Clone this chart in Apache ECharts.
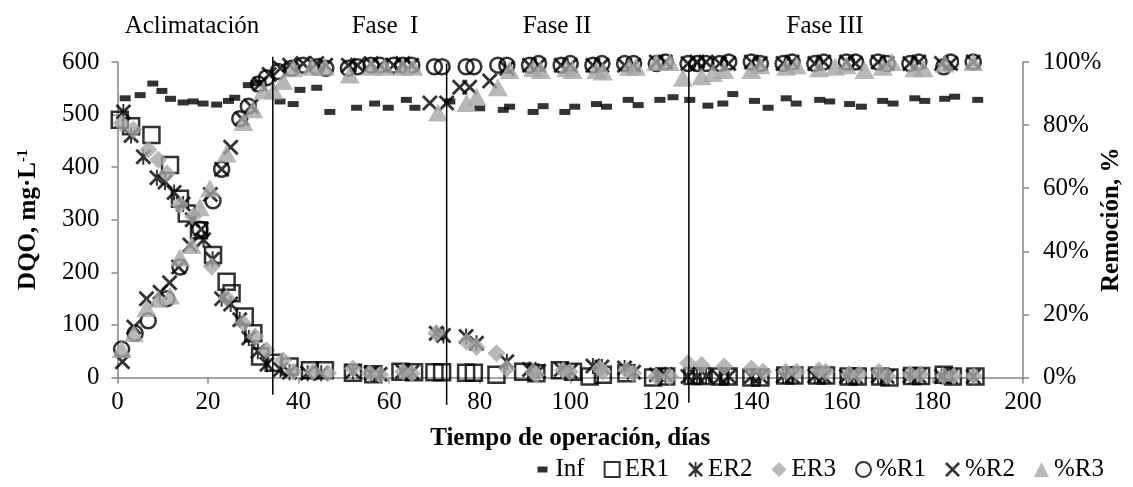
<!DOCTYPE html>
<html><head><meta charset="utf-8">
<script src="https://cdn.jsdelivr.net/npm/echarts@6/dist/echarts.min.js"></script>
<style>html,body{margin:0;padding:0;background:#fff}#c{width:1133px;height:487px}</style>
</head><body><div id="c"></div>
<script>
// ---- data (day, value) ----
const inf = [[1.7,531],[5,537],[7.8,559],[9.8,545],[11.7,530],[14.5,523],[16.7,525],[18.9,521],[21.9,519],[24.5,526],[25.9,532],[28.9,556],[30.7,560],[35.9,525],[38.8,520],[40.3,547],[44,551],[46.9,505],[52.8,513],[56.8,521],[59.8,513],[63.8,528],[65.7,513],[73.4,525],[80,512],[85.2,509],[86.6,515],[91.8,505],[94,516],[98.8,505],[101,515],[105.8,520],[108,515],[112.8,528],[115,518],[119.8,528],[122.7,533],[126.4,528],[130.4,517],[133.7,521],[135.9,539],[140.7,526],[143.7,513],[147.7,531],[149.9,521],[155.1,528],[157.3,525],[161.7,520],[164.3,515],[169,526],[171.3,521],[176.1,531],[178.3,526],[182.7,530],[184.9,534],[190,528]];
const er1 = [[0.5,490],[3,478],[7.5,461],[11.6,404],[13.8,340],[15.3,312],[18,280],[21.1,233],[24.1,182],[25.2,160],[28.1,116],[30,84],[31.5,40],[34.5,28],[38,21],[42.5,14],[45.8,14],[52,9],[56.5,6],[62.5,11],[65.5,10],[70,10],[71.7,10],[77,9],[78.7,9],[83.7,5],[89.6,11],[92.5,8],[97.7,14],[100.6,11],[104.3,2],[107.2,5],[112.4,8],[118.3,0],[121.2,2],[127,3],[129,3],[133,2],[135,2],[140,0],[142,0],[147.5,4],[149.5,4],[154.5,4],[156.5,4],[161.5,2],[163.5,2],[168.5,2],[170.5,0],[175.5,3],[177.5,3],[182.5,5],[184.5,2],[189.5,2]];
const er2 = [[1.3,505],[3,460],[5.7,420],[8.7,380],[10.5,372],[12.5,352],[14.5,330],[16.5,300],[19,262],[21,225],[23,150],[25,140],[27,110],[29,75],[31,50],[33,25],[36,15],[38,10],[42,8],[45,8],[52,12],[56,8],[58,6],[63,12],[65,10],[70.4,84],[72,80],[77,78],[79.3,65],[86,30],[91,15],[93,12],[98,15],[100,12],[105,22],[107,20],[112,18],[114,10],[119,5],[121,5],[126,2],[128,2],[130,3],[133,0],[135,2],[140,2],[142,2],[147,3],[149,3],[154,3],[156,2],[161,2],[163,2],[168,3],[170,2],[175,3],[177,3],[182,2],[184,2],[189,2]];
const er3 = [[0.9,483],[3.5,471],[6.8,433],[9,414],[10.9,388],[13.8,328],[16.7,306],[20.8,211],[24.1,151],[27.8,103],[30.4,78],[32.9,52],[36.6,33],[38.8,11],[43.2,11],[46.5,8],[52,17],[55.7,8],[58,5],[63.1,11],[65,8],[70.4,84],[77.1,68],[79.3,58],[83.7,46],[86,17],[91.8,11],[92.5,5],[98.4,14],[99.9,11],[106.5,17],[107.2,11],[112.4,14],[113.9,8],[119,2],[122,2],[126,27],[129,24],[134,21],[140,17],[142.6,11],[147.6,11],[150,11],[154.9,14],[156.4,11],[161.6,6],[163.8,6],[168.2,11],[170,3],[175.1,6],[177.3,6],[182.5,3],[184.7,3],[189.1,3]];
const r1 = [[0.9,9],[3.9,14],[6.8,18],[10.9,25],[13.8,35],[18.2,47],[21.1,56],[23,66],[27,82],[28.9,86],[31.1,93],[32.9,95],[35.5,97],[38.5,98],[41,99],[44,98.5],[46,98],[51,98],[53,98.5],[56,99],[58,99],[61,99],[63,99],[65,99],[70,98.5],[71.7,98.5],[77,98.5],[78.7,98.5],[84,99],[86,99],[91,99],[93,99.5],[98,99],[100,99.5],[105,99],[107,99.5],[112,99.5],[114,99.5],[119,99.5],[121,100],[126,99.5],[128,99.5],[130,99.5],[133,99.5],[135,100],[140,100],[142,99.5],[147,99.5],[149,100],[154,99.5],[156,100],[161,100],[163,100],[168,100],[170,99.5],[175,99.5],[177,100],[182.5,98.5],[184,100],[189,100]];
const r2 = [[1.1,5],[3.6,16],[6.4,25],[9.4,27],[11.5,30],[13.5,35],[16,42],[18.5,47],[20.5,58],[23,66],[25,73],[27.5,82],[29.5,86],[31.5,93],[33.5,96],[36,98],[38,99],[41,99.5],[44,99.5],[46,99],[51,99],[53,99],[56,99.5],[58,99],[61,99],[63,99.5],[65,99],[69,87],[72.7,87],[75.6,92],[77.8,92],[82.2,94],[86,98],[91,99],[93,99],[98,99],[100,99],[105,99],[107,99],[112,99],[114,99],[119,100],[121,100],[126,99.5],[128,100],[130,100],[133,99.5],[135,99.5],[140,100],[142,99.5],[147,99.5],[149,100],[154,99.5],[156,100],[161,100],[163,99.5],[168,100],[170,99.5],[175,99.5],[177,100],[182,99.5],[184,99.5],[189,100]];
const r3 = [[0.9,9],[3.6,14],[6.4,22],[9,25],[11.6,26],[13.8,38],[16.4,42],[18.2,54],[20.4,60],[24.1,71],[27.8,81],[30,85],[32.2,91],[34.5,91],[36.6,94],[38.8,98],[42.9,98.5],[45.8,98.5],[51.3,96],[56.1,98.5],[59,98.5],[63,98.5],[65.3,98.5],[70.8,84],[77.1,87],[79.3,89],[84,92],[86.6,97.5],[91.8,98],[93.5,97.5],[99.2,98],[100.5,97.5],[105.8,97.5],[107.2,97],[113,98.5],[114.5,98.5],[119,100],[122,100],[124.9,95],[129,95.5],[131.5,96.5],[134,97.5],[140,97.5],[142,99],[147.7,98.5],[150,99],[155,98],[158.5,98.5],[161,99],[165,97.5],[169,98.5],[171,100],[176,98],[178,98],[182.7,99.5],[189,100]];
// phase divider lines (day, top value, bottom value on DQO axis)
const phaseX = [34.3, 72.7, 126.2];
const phaseTop = [610, 597, 602];
const phaseBottom = [-33, -52, -48];
const phaseLabels = ['Aclimatación', 'Fase  I', 'Fase II', 'Fase III'];
const legendNames = ['Inf','ER1','ER2','ER3','%R1','%R2','%R3'];

const FONT = "'Liberation Serif','Times New Roman',serif";
const FS = 25;
const AX = '#868686';
const X_PATH = 'path://M2.5,0 L10,7.5 L17.5,0 L20,2.5 L12.5,10 L20,17.5 L17.5,20 L10,12.5 L2.5,20 L0,17.5 L7.5,10 L0,2.5 Z';
const STAR_PATH = 'path://M2.5,0 L10,7.5 L17.5,0 L20,2.5 L12.5,10 L20,17.5 L17.5,20 L10,12.5 L2.5,20 L0,17.5 L7.5,10 L0,2.5 Z M8.8,0 L11.2,0 L11.2,20 L8.8,20 Z';
const DASH_ICON = 'path://M0,0 L0.01,0 L0,0.01 Z M2,4.5 L12,4.5 L12,10.5 L2,10.5 Z M15,15 L14.99,15 L15,14.99 Z';

const chart = echarts.init(document.getElementById('c'), null, {renderer:'canvas'});

const phaseSeries = phaseX.map((x,i)=>({
  type:'line', data:[[x,phaseTop[i]],[x,phaseBottom[i]]], symbol:'none', clip:false, silent:true,
  lineStyle:{color:'#000', width:1.5}, z:20, animation:false
}));

const labelX = [192, 385, 557, 825];

chart.setOption({
  animation:false,
  textStyle:{fontFamily:FONT},
  grid:{left:117.5, right:110, top:62, bottom:109.5, containLabel:false, outerBoundsMode:'none'},
  xAxis:{type:'value', min:0, max:200, interval:20,
    axisLine:{onZero:false, lineStyle:{color:AX, width:1.5}},
    axisTick:{show:true, inside:false, length:6, lineStyle:{color:AX, width:1.5}},
    axisLabel:{color:'#000', fontSize:FS, fontFamily:FONT, margin:12},
    splitLine:{show:false},
    name:'Tiempo de operación, días', nameLocation:'middle', nameGap:49, nameMoveOverlap:false,
    nameTextStyle:{color:'#000', fontSize:FS, fontWeight:'bold', fontFamily:FONT}
  },
  yAxis:[
    {type:'value', min:0, max:600, interval:100, position:'left',
      axisLine:{show:true, lineStyle:{color:AX, width:1.5}},
      axisTick:{show:true, length:6, lineStyle:{color:AX, width:1.5}},
      axisLabel:{color:'#000', fontSize:FS, fontFamily:FONT, margin:18},
      splitLine:{show:false},
      name:'DQO, mg·L{s|-1}', nameLocation:'middle', nameGap:75, nameRotate:90, nameMoveOverlap:false,
      nameTextStyle:{color:'#000', fontSize:FS, fontWeight:'bold', fontFamily:FONT,
        rich:{s:{fontSize:15, fontWeight:'bold', fontFamily:FONT, color:'#000', padding:[0,0,12,0]}}}
    },
    {type:'value', min:0, max:100, interval:20, position:'right',
      axisLine:{show:true, lineStyle:{color:AX, width:1.5}},
      axisTick:{show:true, length:6, lineStyle:{color:AX, width:1.5}},
      axisLabel:{color:'#000', fontSize:FS, fontFamily:FONT, margin:20, formatter:'{value}%'},
      splitLine:{show:false},
      name:'Remoción, %', nameLocation:'middle', nameGap:76, nameRotate:90, nameMoveOverlap:false,
      nameTextStyle:{color:'#000', fontSize:FS, fontWeight:'bold', fontFamily:FONT}
    }
  ],
  legend:{data:legendNames.map(n=> n==='Inf' ? {name:n, icon:DASH_ICON} : n), right:24, top:452, itemWidth:15, itemHeight:15, itemGap:19,
    textStyle:{color:'#000', fontSize:FS, fontFamily:FONT}},
  graphic: phaseLabels.map((t,i)=>({type:'text', x:labelX[i], y:26,
    style:{text:t, textAlign:'center', textVerticalAlign:'middle', fill:'#000', font:FS+"px "+FONT}})),
  series:[
    {name:'Inf', type:'scatter', data:inf, symbol:'rect', symbolSize:[11,6], itemStyle:{color:'#000'}, z:2},
    {name:'ER1', type:'scatter', data:er1, symbol:'rect', symbolSize:16, itemStyle:{color:'rgba(255,255,255,0)', borderColor:'#000', borderWidth:2.5}, z:3},
    {name:'ER2', type:'scatter', data:er2, symbol:STAR_PATH, symbolSize:16, itemStyle:{color:'#000'}, z:4},
    {name:'ER3', type:'scatter', data:er3, symbol:'diamond', symbolSize:18, itemStyle:{color:'#a6a6a6'}, z:5},
    {name:'%R1', type:'scatter', yAxisIndex:1, data:r1, symbol:'circle', symbolSize:15, itemStyle:{color:'rgba(255,255,255,0)', borderColor:'#000', borderWidth:2.5}, z:6},
    {name:'%R2', type:'scatter', yAxisIndex:1, data:r2, symbol:X_PATH, symbolSize:16, itemStyle:{color:'#000'}, z:7},
    {name:'%R3', type:'scatter', yAxisIndex:1, data:r3, symbol:'triangle', symbolSize:[20,18], itemStyle:{color:'#a6a6a6'}, z:8}
  ].concat(phaseSeries)
});
</script></body></html>
